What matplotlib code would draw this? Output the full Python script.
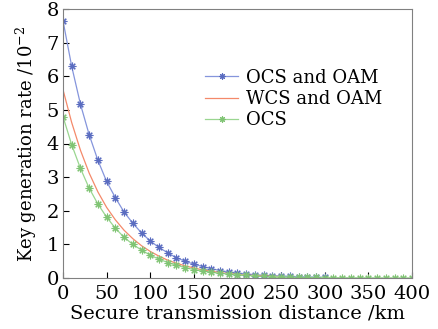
import matplotlib
matplotlib.use("Agg")
import matplotlib.pyplot as plt
import numpy as np

distance_km = list(range(0, 410, 10))

ocs_oam = [7.65, 6.29, 5.17, 4.26, 3.50, 2.87, 2.39, 1.96, 1.63, 1.34,
           1.10, 0.91, 0.75, 0.60, 0.50, 0.41, 0.34, 0.28, 0.22, 0.18,
           0.15, 0.12, 0.10, 0.08, 0.07, 0.06, 0.05, 0.04, 0.03, 0.025, 0.02]
wcs_oam = [5.60, 4.62, 3.80, 3.12, 2.56, 2.10, 1.73, 1.42, 1.17, 0.96,
           0.79, 0.65, 0.53, 0.44, 0.36, 0.30, 0.24, 0.20, 0.16, 0.13,
           0.11, 0.09, 0.07, 0.06, 0.05, 0.04]
ocs = [4.80, 3.96, 3.26, 2.67, 2.20, 1.81, 1.48, 1.21, 1.00, 0.83,
       0.68, 0.56, 0.46, 0.38, 0.31, 0.25, 0.21, 0.17, 0.14, 0.12,
       0.10, 0.08, 0.06, 0.05, 0.04, 0.035, 0.03, 0.025, 0.02, 0.016,
       0.013, 0.01, 0.008, 0.007, 0.006, 0.005, 0.004, 0.003, 0.003, 0.002, 0.002]

labels = ["OCS and OAM", "WCS and OAM", "OCS"]
x_ticks = [0, 50, 100, 150, 200, 250, 300, 350, 400]
y_ticks = [0, 1, 2, 3, 4, 5, 6, 7, 8]

plt.rcParams['font.family'] = ['DejaVu Serif']
plt.rcParams['mathtext.fontset'] = 'dejavuserif'

fig = plt.figure(figsize=(4.39, 3.29), dpi=100)
ax = fig.add_axes([63/439, 1 - 278/329, (412-63)/439, (278-9)/329])

blue = '#8595dc'
red = '#f4896a'
green = '#9ad690'
ast = (8, 2, 0)

ax.plot(distance_km[:len(ocs_oam)], ocs_oam, color=blue, lw=0.9, marker=ast,
        ms=5.5, mew=0.8, mec='#5a6cc0', label=labels[0])
ax.plot(distance_km[:len(wcs_oam)], wcs_oam, color=red, lw=0.9, label=labels[1])
ax.plot(distance_km[:len(ocs)], ocs, color=green, lw=0.9, marker=ast,
        ms=5.5, mew=0.8, mec='#80c474', label=labels[2])

ax.set_xlim(0, 400)
ax.set_ylim(0, 8)
ax.set_xticks(x_ticks)
ax.set_yticks(y_ticks)
ax.tick_params(direction='in', length=4, labelsize=14, colors='black',
               top=False, right=False)
ax.tick_params(axis='x', pad=5)
ax.tick_params(axis='y', pad=3)
for s in ax.spines.values():
    s.set_color('#808080')
    s.set_linewidth(0.8)

ax.set_xlabel("Secure transmission distance /km", fontsize=14, labelpad=1)
ax.set_ylabel("Key generation rate /10$^{-2}$", fontsize=13, labelpad=5)

leg = ax.legend(loc='upper left', bbox_to_anchor=(0.387, 0.805), frameon=False,
                fontsize=13, handlelength=1.8, handletextpad=0.45,
                labelspacing=0.18, borderaxespad=0, markerscale=0.8)

fig.savefig("out.png", dpi=100)
